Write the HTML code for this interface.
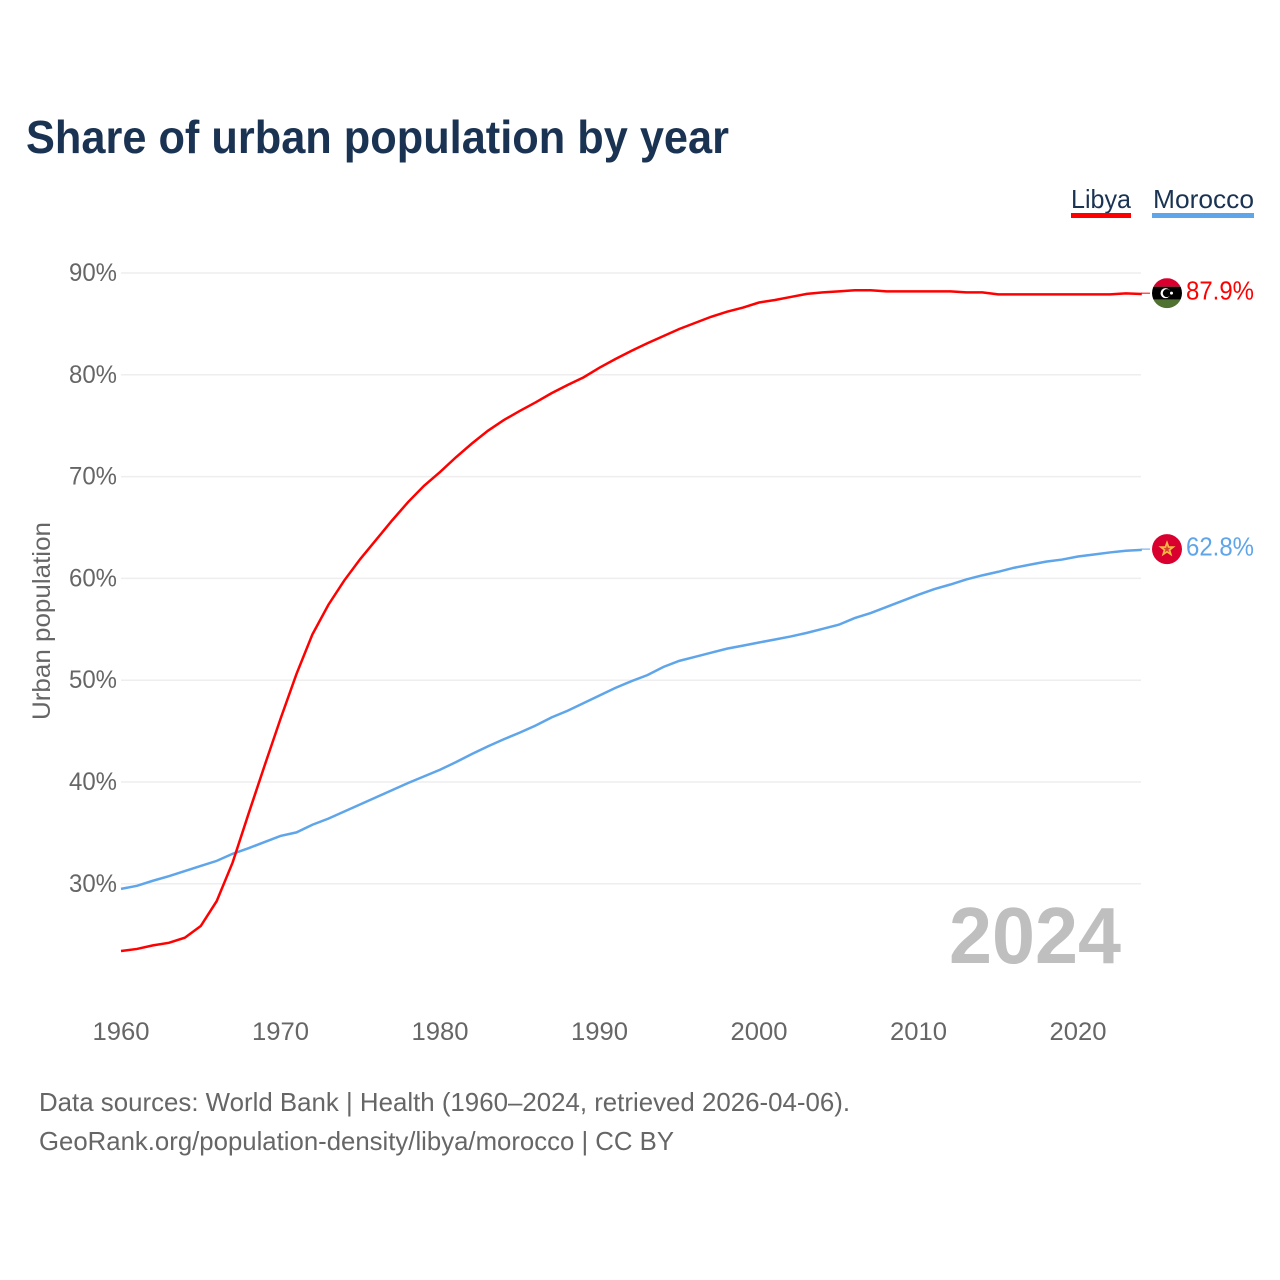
<!DOCTYPE html>
<html lang="en">
<head>
<meta charset="utf-8">
<title>Share of urban population by year</title>
<style>
html,body{margin:0;padding:0;background:#fff}
svg{display:block}
text{font-family:"Liberation Sans",sans-serif}
</style>
</head>
<body>
<svg id="chart" xmlns="http://www.w3.org/2000/svg" width="1280" height="1280" viewBox="0 0 1280 1280">
  <defs>
    <clipPath id="flag-clip"><circle cx="0" cy="0" r="15"/></clipPath>
  </defs>
  <rect width="1280" height="1280" fill="#fff"/>
  <text x="26" y="153" font-size="46" font-weight="700" fill="#1a3353" textLength="703" lengthAdjust="spacingAndGlyphs">Share of urban population by year</text>

  <text x="1071" y="208" font-size="26" fill="#1a3353" textLength="60" lengthAdjust="spacingAndGlyphs">Libya</text>
  <rect x="1071" y="213" width="60" height="5" fill="#ff0000"/>
  <text x="1153" y="208" font-size="26" fill="#1a3353" textLength="101" lengthAdjust="spacingAndGlyphs">Morocco</text>
  <rect x="1152" y="213" width="102" height="5" fill="#5fa5ea"/>

  <g id="grid"></g>
  <g id="yticks"></g>
  <g id="xticks"></g>
  <text transform="translate(50,621) rotate(-90)" text-anchor="middle" font-size="25" fill="#666" textLength="198" lengthAdjust="spacingAndGlyphs">Urban population</text>
  <text x="949" y="963" font-size="80" font-weight="700" fill="#bfbfbf" textLength="172" lengthAdjust="spacingAndGlyphs">2024</text>

  <g id="series"></g>

  <g id="flag-libya">
    <g clip-path="url(#flag-clip)">
      <rect x="-15" y="-15" width="30" height="8.5" fill="#d9002f"/>
      <rect x="-15" y="-6.5" width="30" height="13" fill="#000"/>
      <rect x="-15" y="6.5" width="30" height="9" fill="#4f7132"/>
    </g>
    <circle cx="-1.5" cy="0" r="5" fill="#fff"/>
    <circle cx="-0.2" cy="0" r="4" fill="#000"/>
    <circle cx="4.5" cy="0" r="1.5" fill="#fff"/>
  </g>
  <g id="flag-morocco">
    <circle cx="0" cy="0" r="15" fill="#d9002f"/>
    <polygon points="0,-9 2.2,-2.9 8.6,-2.8 3.5,1.1 5.3,7.3 0,3.6 -5.3,7.3 -3.5,1.1 -8.6,-2.8 -2.2,-2.9" fill="#f4b942"/>
    <polygon points="0,-3.8 1,-1.2 3.6,-1.2 1.5,0.5 2.3,3.1 0,1.6 -2.3,3.1 -1.5,0.5 -3.6,-1.2 -1,-1.2" fill="#d9412f"/>
  </g>
  <text id="label-libya" x="1186" font-size="26" fill="#ff0000" textLength="68" lengthAdjust="spacingAndGlyphs"></text>
  <text id="label-morocco" x="1186" font-size="26" fill="#5fa5ea" textLength="68" lengthAdjust="spacingAndGlyphs"></text>

  <text x="39" y="1111" font-size="26" fill="#666" textLength="811" lengthAdjust="spacingAndGlyphs">Data sources: World Bank | Health (1960–2024, retrieved 2026-04-06).</text>
  <text x="39" y="1150" font-size="26" fill="#666" textLength="635" lengthAdjust="spacingAndGlyphs">GeoRank.org/population-density/libya/morocco | CC BY</text>
</svg>
<script>
const startYear = 1960;
const yTickValues = [30, 40, 50, 60, 70, 80, 90];
const xTickValues = [1960, 1970, 1980, 1990, 2000, 2010, 2020];
const libyaValues = [23.4,23.6,23.95,24.2,24.7,25.85,28.3,32.1,36.9,41.6,46.2,50.6,54.5,57.4,59.8,61.9,63.8,65.7,67.5,69.1,70.45,71.9,73.25,74.5,75.55,76.45,77.3,78.2,79,79.75,80.7,81.55,82.35,83.1,83.8,84.5,85.1,85.7,86.2,86.6,87.1,87.35,87.65,87.95,88.1,88.2,88.3,88.3,88.2,88.2,88.2,88.2,88.2,88.1,88.1,87.9,87.9,87.9,87.9,87.9,87.9,87.9,87.9,88,87.94];
const moroccoValues = [29.5,29.8,30.3,30.75,31.25,31.75,32.25,32.95,33.5,34.1,34.7,35.05,35.8,36.4,37.1,37.8,38.5,39.2,39.9,40.55,41.2,41.95,42.75,43.5,44.2,44.85,45.55,46.35,47,47.75,48.5,49.25,49.9,50.5,51.3,51.9,52.3,52.7,53.1,53.4,53.7,54,54.3,54.65,55.05,55.45,56.1,56.6,57.2,57.8,58.4,58.95,59.4,59.9,60.3,60.65,61.05,61.35,61.65,61.85,62.15,62.35,62.55,62.72,62.8];
const NS = 'http://www.w3.org/2000/svg';
const xScale = function (year) { return 121 + (year - startYear) * 15.95; };
const yScale = function (value) { return 273 + (90 - value) * 10.18; };

const grid = document.getElementById('grid');
const yticks = document.getElementById('yticks');
const xticks = document.getElementById('xticks');
const series = document.getElementById('series');

yTickValues.forEach(function (v) {
  const line = document.createElementNS(NS, 'line');
  
  
  line.setAttribute('x1', 121);
  line.setAttribute('x2', 1141);
  line.setAttribute('y1', yScale(v));
  line.setAttribute('y2', yScale(v));
  line.setAttribute('stroke', '#eeeeee');
  line.setAttribute('stroke-width', 1.5);
  grid.appendChild(line);
  const t = document.createElementNS(NS, 'text');
  
  
  t.setAttribute('x', 69);
  t.setAttribute('y', yScale(v) + 8);
  t.setAttribute('font-size', 25);
  t.setAttribute('fill', '#666');
  t.setAttribute('textLength', 48);
  t.setAttribute('lengthAdjust', 'spacingAndGlyphs');
  t.textContent = v + '%';
  yticks.appendChild(t);
});

xTickValues.forEach(function (y) {
  const t = document.createElementNS(NS, 'text');
  
  
  t.setAttribute('x', xScale(y) - 28.5);
  t.setAttribute('y', 1040);
  t.setAttribute('font-size', 25);
  t.setAttribute('fill', '#666');
  t.setAttribute('textLength', 57);
  t.setAttribute('lengthAdjust', 'spacingAndGlyphs');
  t.textContent = y;
  xticks.appendChild(t);
});

function pathFor(values) {
  return values.map(function (v, i) {
    return (i ? 'L' : 'M') + xScale(startYear + i).toFixed(2) + ' ' + yScale(v).toFixed(2);
  }).join('');
}

const moroccoLine = document.createElementNS(NS, 'path');


moroccoLine.setAttribute('d', pathFor(moroccoValues));
moroccoLine.setAttribute('fill', 'none');
moroccoLine.setAttribute('stroke', '#5fa5ea');
moroccoLine.setAttribute('stroke-width', 2.5);
series.appendChild(moroccoLine);

const libyaLine = document.createElementNS(NS, 'path');


libyaLine.setAttribute('d', pathFor(libyaValues));
libyaLine.setAttribute('fill', 'none');
libyaLine.setAttribute('stroke', '#ff0000');
libyaLine.setAttribute('stroke-width', 2.5);
series.appendChild(libyaLine);

function endMarker(values, flagId, labelId, color) {
  const last = values[values.length - 1];
  const y = yScale(last) - 0.8;
  document.getElementById(flagId).setAttribute('transform', 'translate(1167,' + y + ')');
  const label = document.getElementById(labelId);
  label.setAttribute('y', y + 6.5);
  label.textContent = last.toFixed(1) + '%';
  const link = document.createElementNS(NS, 'line');
  
  
  link.setAttribute('x1', 1141);
  link.setAttribute('x2', 1150);
  link.setAttribute('y1', y);
  link.setAttribute('y2', y);
  link.setAttribute('stroke', color);
  link.setAttribute('stroke-width', 1);
  series.appendChild(link);
}
endMarker(libyaValues, 'flag-libya', 'label-libya', '#ff0000');
endMarker(moroccoValues, 'flag-morocco', 'label-morocco', '#5fa5ea');
</script>
</body>
</html>
